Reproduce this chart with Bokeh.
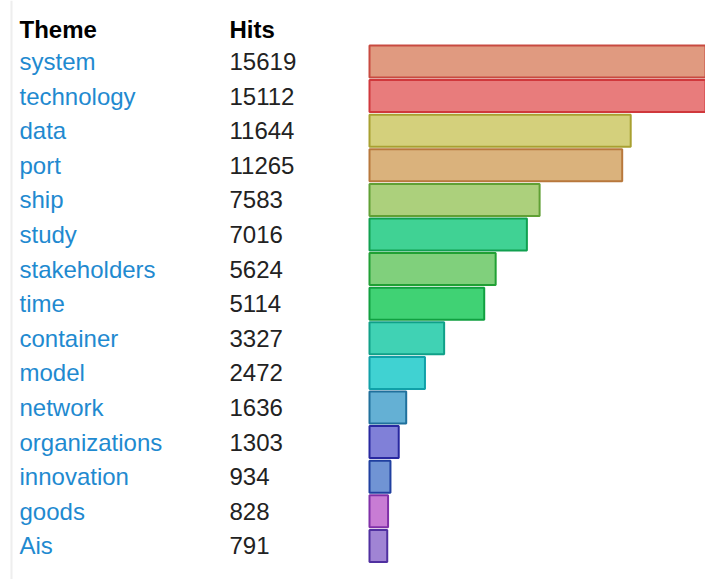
from bokeh.plotting import figure
from bokeh.models import ColumnDataSource, Range1d, Span
from bokeh.core.properties import value
from bokeh.embed import file_html
from bokeh.resources import INLINE

themes = ["system", "technology", "data", "port", "ship", "study", "stakeholders",
          "time", "container", "model", "network", "organizations", "innovation",
          "goods", "Ais"]
hits = [15619, 15112, 11644, 11265, 7583, 7016, 5624, 5114, 3327, 2472, 1636,
        1303, 934, 828, 791]
fill_colors = ["#e09a80", "#e87c7c", "#d4d07c", "#dab27c", "#acd07c", "#40d294",
               "#80d07c", "#40d274", "#40d2b4", "#40d2d2", "#64b0d4", "#8080d8",
               "#7094d4", "#c87cd4", "#a084d4"]
line_colors = ["#c84a40", "#d0383c", "#a8a030", "#b8783c", "#60a034", "#10a050",
               "#20a034", "#10a040", "#10a088", "#10a0a8", "#20709c", "#2828a0",
               "#2040a0", "#8030a8", "#5030a0"]
headers = ["Theme", "Hits"]

W, H = 705, 579
# layout constants (pixels, relative to figure)
bar_left_px = 369
px_per_unit = 339.0 / 15112
units_per_px = 1.0 / px_per_unit
x0 = -bar_left_px * units_per_px
x1 = x0 + W * units_per_px

pitch = 34.6
row0_px = 61
y_top = -row0_px / pitch
y_bot = y_top + H / pitch

def px_to_x(px):
    return x0 + px * units_per_px

theme_x = px_to_x(19)
hits_x = px_to_x(229)

idx = list(range(len(themes)))
src = ColumnDataSource(dict(y=idx, hits=hits, theme=themes,
                            hits_str=[str(h) for h in hits],
                            fill=fill_colors, line=line_colors,
                            tx=[theme_x] * len(idx), hx=[hits_x] * len(idx)))

p = figure(width=W, height=H, output_backend="svg", toolbar_location=None,
           x_range=Range1d(x0, x1), y_range=Range1d(y_bot, y_top),
           min_border=0, outline_line_color=None)
p.axis.visible = False
p.grid.visible = False
p.background_fill_color = "white"

p.add_layout(Span(location=px_to_x(11), dimension="height",
                  line_color="#eeeeee", line_width=2))

p.hbar(y="y", left=0, right="hits", height=0.925, source=src,
       fill_color="fill", line_color="line", line_width=2)

font = value("Liberation Sans")
p.text(x="tx", y="y", text="theme", source=src, text_font=font,
       text_font_size="24px", text_color="#1f8ad0", text_baseline="middle",
       text_align="left")
p.text(x="hx", y="y", text="hits_str", source=src, text_font=font,
       text_font_size="24px", text_color="#222222", text_baseline="middle",
       text_align="left")
hsrc = ColumnDataSource(dict(x=[theme_x, hits_x], y=[-0.92, -0.92], t=headers))
p.text(x="x", y="y", text="t", source=hsrc, text_font=font,
       text_font_size="24px", text_font_style="bold", text_color="#000000",
       text_baseline="middle", text_align="left")

open("out.html", "w").write(file_html(p, INLINE))
